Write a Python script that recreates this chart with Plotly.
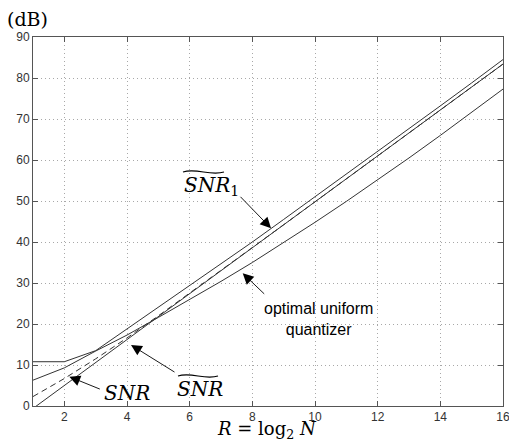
import plotly.graph_objects as go

# ---- data ----
R = [1, 2, 3, 4, 5, 6, 7, 8, 9, 10, 11, 12, 13, 14, 15, 16]
snr_tilde_1 = [10.8, 10.8, 13.5, 18.8, 24.0, 29.2, 34.6, 40.0, 45.5, 51.0, 56.5, 62.0, 67.6, 73.2, 78.8, 84.5]
snr_tilde = [-0.6, 5.0, 10.6, 16.2, 21.8, 27.4, 33.0, 38.6, 44.2, 49.8, 55.4, 61.0, 66.6, 72.2, 77.8, 83.4]
snr = [2.3, 6.7, 11.5, 16.6, 22.0, 27.5, 33.0, 38.6, 44.2, 49.8, 55.4, 61.0, 66.6, 72.2, 77.8, 83.4]
snr_uniform = [6.3, 9.3, 13.4, 17.3, 21.6, 25.9, 30.4, 35.0, 39.8, 44.8, 49.9, 55.1, 60.5, 66.0, 71.6, 77.3]

x_ticks = [2, 4, 6, 8, 10, 12, 14, 16]
y_ticks = [0, 10, 20, 30, 40, 50, 60, 70, 80, 90]

y_unit_label = "(dB)"
x_label = "<i>R</i> = log<sub>2</sub> <i>N</i>"
label_snr1 = "<i>SNR</i><sub>1</sub>"
label_snr_t = "<i>SNR</i>"
label_snr = "<i>SNR</i>"
label_uniform = "optimal uniform<br>quantizer"

W, H = 509, 444
L, RM, T, B = 33, 6, 37, 38
PW, PH = W - L - RM, H - T - B


def px(xp):
    return (xp - L) / PW


def py(yp):
    return (H - B - yp) / PH


line_style = dict(color="#333333", width=1)

fig = go.Figure()
fig.add_trace(go.Scatter(x=R, y=snr_tilde_1, mode="lines", line=line_style, showlegend=False))
fig.add_trace(go.Scatter(x=R, y=snr_tilde, mode="lines", line=line_style, showlegend=False))
fig.add_trace(go.Scatter(x=R, y=snr, mode="lines", line=dict(color="#333333", width=1, dash="6px,4px"), showlegend=False))
fig.add_trace(go.Scatter(x=R, y=snr_uniform, mode="lines", line=line_style, showlegend=False))

axis_common = dict(
    showgrid=True, gridcolor="#a8a8a8", griddash="1px,3px", gridwidth=1,
    showline=True, linecolor="#555555", linewidth=1, mirror="ticks",
    ticks="inside", ticklen=5, tickcolor="#555555",
    tickfont=dict(family="Liberation Sans, Arial", size=12, color="#333333"),
    zeroline=False, ticklabeloverflow="allow", automargin=False,
)
fig.update_xaxes(range=[1, 16], tickvals=x_ticks, **axis_common)
fig.update_yaxes(range=[0, 90], tickvals=y_ticks, **axis_common)

serif = "DejaVu Serif"
ann = []
# unit label
ann.append(dict(xref="paper", yref="paper", x=px(5), y=py(19), xanchor="left", yanchor="middle",
                text=y_unit_label, showarrow=False, font=dict(family=serif, size=19, color="black")))
# x label
ann.append(dict(xref="paper", yref="paper", x=px(267), y=py(430), xanchor="center", yanchor="middle",
                text=x_label, showarrow=False, font=dict(family=serif, size=18, color="black")))
# text labels
ann.append(dict(xref="paper", yref="paper", x=px(211), y=py(186), xanchor="center", yanchor="middle",
                text=label_snr1, showarrow=False, font=dict(family=serif, size=20, color="black")))
ann.append(dict(xref="paper", yref="paper", x=px(200), y=py(389), xanchor="center", yanchor="middle",
                text=label_snr_t, showarrow=False, font=dict(family=serif, size=20, color="black")))
ann.append(dict(xref="paper", yref="paper", x=px(127), y=py(393), xanchor="center", yanchor="middle",
                text=label_snr, showarrow=False, font=dict(family=serif, size=20, color="black")))
ann.append(dict(xref="paper", yref="paper", x=px(318), y=py(319), xanchor="center", yanchor="middle",
                text=label_uniform, showarrow=False, align="center",
                font=dict(family="Liberation Sans, Arial", size=16, color="black")))

# arrows (tip in data coords, tail offsets in pixels)
arrows = [
    (8.597, 43.34, -32, -33),
    (7.693, 32.37, 23, 22),
    (2.159, 7.15, 32, 13),
    (4.128, 14.88, 45, 28),
]
for (xa, ya, dx, dy) in arrows:
    ann.append(dict(x=xa, y=ya, xref="x", yref="y", ax=dx, ay=dy, text="", showarrow=True,
                    arrowhead=2, arrowsize=2.4, arrowwidth=0.9, arrowcolor="black", standoff=0))

fig.update_layout(annotations=ann)


def tilde(x0, x1, yc, h=2.2):
    w = x1 - x0
    p0 = (px(x0), py(yc))
    c1 = (px(x0 + w / 3), py(yc - 2 * h))
    c2 = (px(x0 + 2 * w / 3), py(yc + 2 * h))
    p1 = (px(x1), py(yc))
    return dict(type="path", xref="paper", yref="paper",
                path=f"M {p0[0]},{p0[1]} C {c1[0]},{c1[1]} {c2[0]},{c2[1]} {p1[0]},{p1[1]}",
                line=dict(color="black", width=1.1))


fig.update_layout(shapes=[tilde(183, 224, 172), tilde(178, 218, 376)])

fig.update_layout(
    width=W, height=H,
    margin=dict(l=L, r=RM, t=T, b=B),
    paper_bgcolor="white", plot_bgcolor="white",
    showlegend=False,
)

fig.write_html("out.html")
